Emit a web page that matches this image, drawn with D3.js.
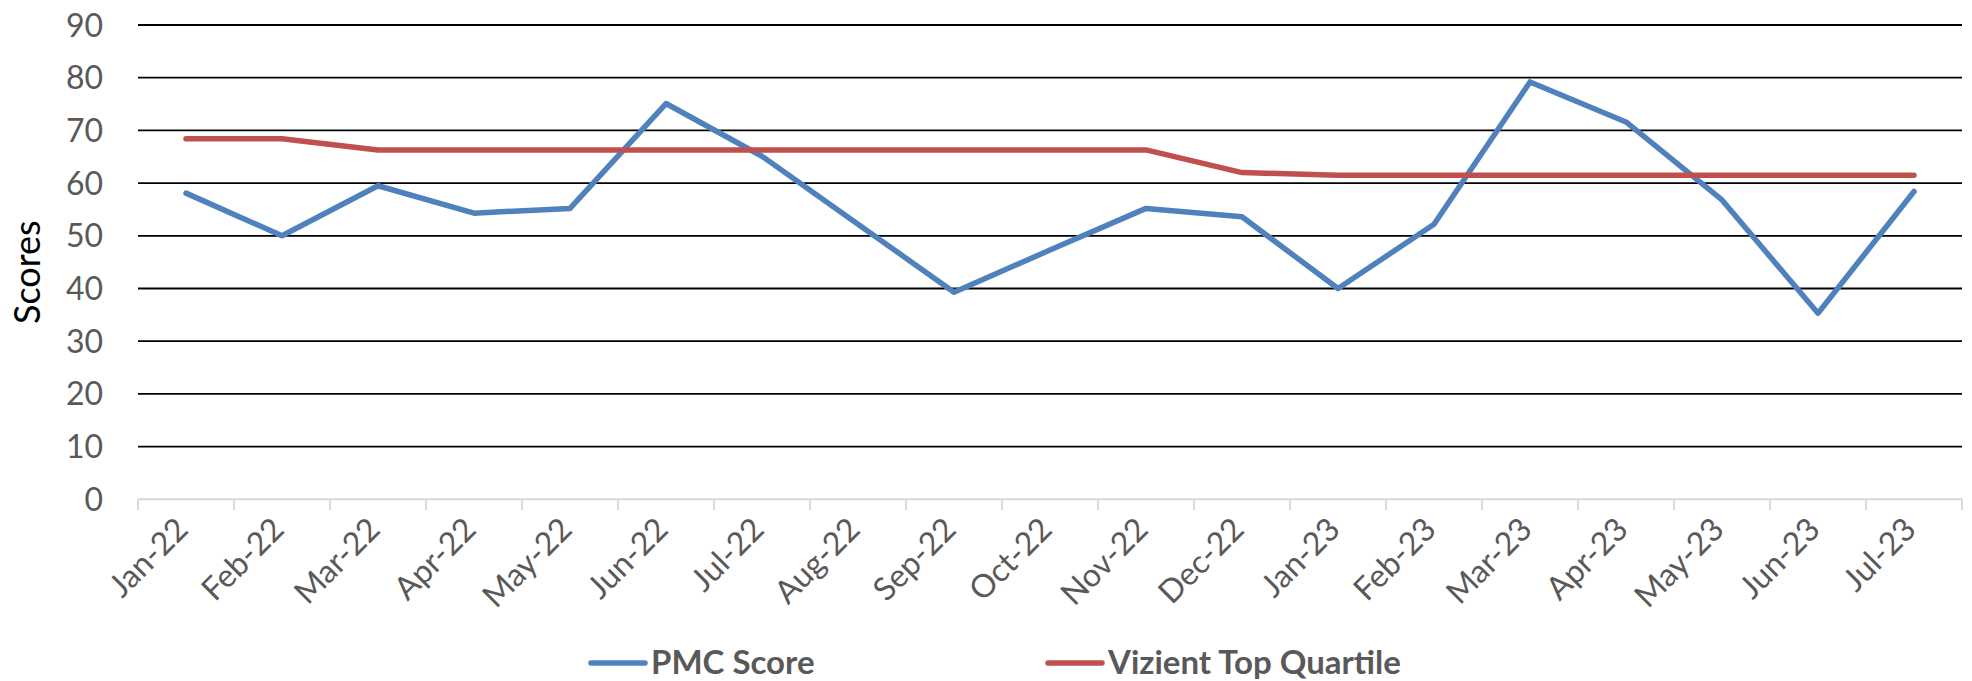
<!DOCTYPE html>
<html>
<head>
<meta charset="utf-8">
<script src="https://cdn.jsdelivr.net/npm/d3@7"></script>
<style>
  html, body { margin: 0; padding: 0; background: #fff; }
  svg { display: block; font-family: Lato, "Open Sans", sans-serif; }
</style>
</head>
<body>
<svg id="chart" width="1972" height="681"></svg>
<script>
const categories = ["Jan-22","Feb-22","Mar-22","Apr-22","May-22","Jun-22","Jul-22","Aug-22","Sep-22","Oct-22","Nov-22","Dec-22","Jan-23","Feb-23","Mar-23","Apr-23","May-23","Jun-23","Jul-23"];
const pmcScore = [58.1, 50.0, 59.5, 54.3, 55.2, 75.1, 65.1, 52.2, 39.3, 47.3, 55.2, 53.6, 40.0, 52.2, 79.2, 71.6, 56.8, 35.3, 58.4];
const vizientTopQuartile = [68.4, 68.4, 66.3, 66.3, 66.3, 66.3, 66.3, 66.3, 66.3, 66.3, 66.3, 62.0, 61.5, 61.5, 61.5, 61.5, 61.5, 61.5, 61.5];
const yTicks = [0, 10, 20, 30, 40, 50, 60, 70, 80, 90];
const seriesNames = ["PMC Score", "Vizient Top Quartile"];
const seriesColors = ["#4f81bd", "#c0504d"];

const svg = d3.select("#chart");
const plotLeft = 138, plotRight = 1962, plotTop = 25, plotBottom = 499.3;

const x = d3.scaleBand().domain(categories).range([plotLeft, plotRight]);
const y = d3.scaleLinear().domain([0, 90]).range([plotBottom, plotTop]);
const cx = c => x(c) + x.bandwidth() / 2;

// gridlines
svg.append("g").selectAll("line")
  .data(yTicks.filter(t => t > 0))
  .join("line")
  .attr("x1", plotLeft).attr("x2", plotRight)
  .attr("y1", d => y(d)).attr("y2", d => y(d))
  .attr("stroke", "#000").attr("stroke-width", 1.8);

// y tick labels
svg.append("g").selectAll("text")
  .data(yTicks)
  .join("text")
  .attr("x", 103).attr("y", d => y(d))
  .attr("dy", "0.36em")
  .attr("text-anchor", "end")
  .attr("fill", "#595959")
  .attr("font-size", 32)
  .text(d => d);

// y axis title
svg.append("text")
  .attr("transform", `translate(40,${(plotTop + plotBottom) / 2 + 10}) rotate(-90)`)
  .attr("text-anchor", "middle")
  .attr("fill", "#000")
  .attr("font-size", 36)
  .text("Scores");

// x axis line + ticks
const xAxis = svg.append("g");
xAxis.append("line")
  .attr("x1", plotLeft).attr("x2", plotRight)
  .attr("y1", plotBottom).attr("y2", plotBottom)
  .attr("stroke", "#d9d9d9").attr("stroke-width", 2);
const boundaries = categories.map(c => x(c)).concat([plotRight]);
xAxis.selectAll("line.tick")
  .data(boundaries)
  .join("line")
  .attr("class", "tick")
  .attr("x1", d => d).attr("x2", d => d)
  .attr("y1", plotBottom).attr("y2", plotBottom + 11)
  .attr("stroke", "#d9d9d9").attr("stroke-width", 2);

// x labels
xAxis.selectAll("text")
  .data(categories)
  .join("text")
  .attr("transform", d => `translate(${cx(d) + 4},${plotBottom + 32}) rotate(-45)`)
  .attr("text-anchor", "end")
  .attr("fill", "#595959")
  .attr("font-size", 32)
  .text(d => d);

// lines
const line = d3.line().x((d, i) => cx(categories[i])).y(d => y(d));
[pmcScore, vizientTopQuartile].forEach((s, k) => {
  svg.append("path")
    .datum(s)
    .attr("d", line)
    .attr("fill", "none")
    .attr("stroke", seriesColors[k])
    .attr("stroke-width", 5.5)
    .attr("stroke-linejoin", "round")
    .attr("stroke-linecap", "round");
});

// legend
const legendX = [591, 1048];
const legendY = 663;
const lg = svg.append("g");
seriesNames.forEach((name, k) => {
  lg.append("line")
    .attr("x1", legendX[k]).attr("x2", legendX[k] + 54)
    .attr("y1", legendY).attr("y2", legendY)
    .attr("stroke", seriesColors[k]).attr("stroke-width", 5.5)
    .attr("stroke-linecap", "round");
  lg.append("text")
    .attr("x", legendX[k] + 60).attr("y", legendY)
    .attr("dy", "0.34em")
    .attr("fill", "#595959")
    .attr("font-size", 33)
    .attr("font-weight", "bold")
    .text(name);
});
</script>
</body>
</html>
